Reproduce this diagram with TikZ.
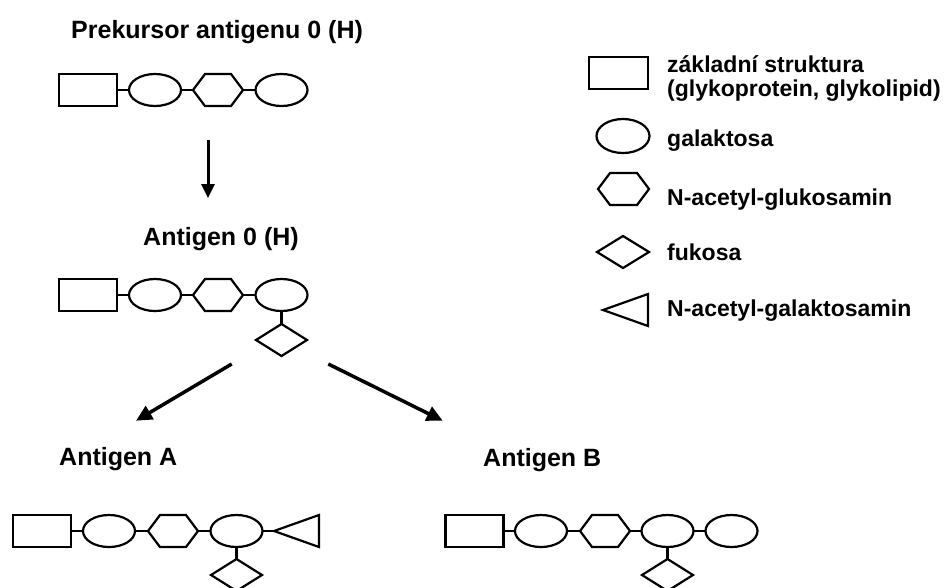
\documentclass[tikz,border=0pt]{standalone}
\usepackage{fontspec}
\setmainfont{Liberation Sans}
\usetikzlibrary{shapes.geometric,arrows.meta}
\newcommand\hexnode[3][50pt]{%
  \node[holder=#1] (#2) at (#3) {};
  \draw[shp,line join=miter] (#2.west) -- ([xshift=12pt]#2.north west) -- ([xshift=-12pt]#2.north east)
    -- (#2.east) -- ([xshift=-12pt]#2.south east) -- ([xshift=12pt]#2.south west) -- cycle;}
\newcommand\trinode[2]{%
  \node[holder=45pt] (#1) at (#2) {};
  \draw[shp,line join=miter] (#1.west) -- (#1.north east) -- (#1.south east) -- cycle;}
\begin{document}
\begin{tikzpicture}[x=1pt,y=-1pt,
  shp/.style={draw=black,line width=2.2pt},
  basebox/.style={shp,rectangle,minimum width=58pt,minimum height=32pt,inner sep=0pt,outer sep=0pt},
  galbox/.style={shp,ellipse,minimum width=52pt,minimum height=32pt,inner sep=0pt,outer sep=0pt},
  fucbox/.style={shp,diamond,minimum width=51pt,minimum height=32pt,inner sep=0pt,outer sep=0pt},
  holder/.style={rectangle,minimum width=#1,minimum height=32pt,inner sep=0pt,outer sep=0pt},
  link/.style={line width=2.2pt},
  head/.style={font=\fontsize{25}{28}\selectfont\bfseries,inner sep=0pt,anchor=base west},
  legtext/.style={font=\fontsize{23}{24}\selectfont\bfseries,inner sep=0pt,anchor=base west},
  flow/.style={line width=3.5pt,-{Triangle[length=16pt,width=15pt]}},
  flowv/.style={line width=3pt,-{Triangle[length=14pt,width=13pt]}},
]
\useasboundingbox (0,0) rectangle (947,587);
\clip (0,0) rectangle (947,587);

% headings
\node[head] (t0) at (71,38) {Prekursor antigenu 0 (H)};
\node[head] (t1) at (143,245) {Antigen 0 (H)};
\node[head] (t2) at (59,465) {Antigen A};
\node[head] (t3) at (483,466) {Antigen B};

% precursor chain
\node[basebox] (p1) at (88,90) {};
\node[galbox] (p2) at (155,90) {};
\hexnode{p3}{218,90}
\node[galbox] (p4) at (281.5,90) {};
\draw[link] (p1.east) -- (p2.west) (p2.east) -- (p3.west) (p3.east) -- (p4.west);

% antigen 0 (H)
\node[basebox] (h1) at (88,295) {};
\node[galbox] (h2) at (155,295) {};
\hexnode{h3}{218,295}
\node[galbox] (h4) at (281.5,295) {};
\node[fucbox] (h5) at (281.5,340) {};
\draw[link] (h1.east) -- (h2.west) (h2.east) -- (h3.west) (h3.east) -- (h4.west) (h4.south) -- (h5.north);

% antigen A
\node[basebox] (a1) at (42,531) {};
\node[galbox] (a2) at (109,531) {};
\hexnode{a3}{173,531}
\node[galbox] (a4) at (236.5,531) {};
\trinode{a5}{296.5,531}
\node[fucbox] (a6) at (236.5,575) {};
\draw[link] (a1.east) -- (a2.west) (a2.east) -- (a3.west) (a3.east) -- (a4.west)
  (a4.east) -- (a5.west) (a4.south) -- (a6.north);

% antigen B
\node[basebox] (b1) at (474.5,531) {};
\node[galbox] (b2) at (541,531) {};
\hexnode{b3}{605,531}
\node[galbox] (b4) at (667.5,531) {};
\node[galbox] (b5) at (731.5,531) {};
\node[fucbox] (b6) at (667.5,575) {};
\draw[link] (b1.east) -- (b2.west) (b2.east) -- (b3.west) (b3.east) -- (b4.west)
  (b4.east) -- (b5.west) (b4.south) -- (b6.north);

% arrows
\coordinate (v0) at (208,140);
\coordinate (v1) at (208,198);
\coordinate (d0) at (231.7,364);
\coordinate (d1) at (136,420.7);
\coordinate (d2) at (328.3,364);
\coordinate (d3) at (442.7,420.7);
\draw[flowv] (v0) -- (v1);
\draw[flow] (d0) -- (d1);
\draw[flow] (d2) -- (d3);

% legend
\node[basebox,minimum width=59pt] (l1) at (618.5,73) {};
\node[galbox,minimum width=53pt,minimum height=34pt] (l2) at (623,136) {};
\hexnode[51pt]{l3}{623.5,189}
\node[fucbox,minimum width=52pt] (l4) at (623,252) {};
\trinode{l5}{625.5,310}
\node[legtext] (m1) at (667,72) {\vtop{\hbox{základní struktura}\hbox{(glykoprotein, glykolipid)}}};
\node[legtext] (m2) at (667,146) {galaktosa};
\node[legtext] (m3) at (667,205) {N-acetyl-glukosamin};
\node[legtext] (m4) at (667,260) {fukosa};
\node[legtext] (m5) at (667,316.7) {N-acetyl-galaktosamin};
\end{tikzpicture}
\end{document}
